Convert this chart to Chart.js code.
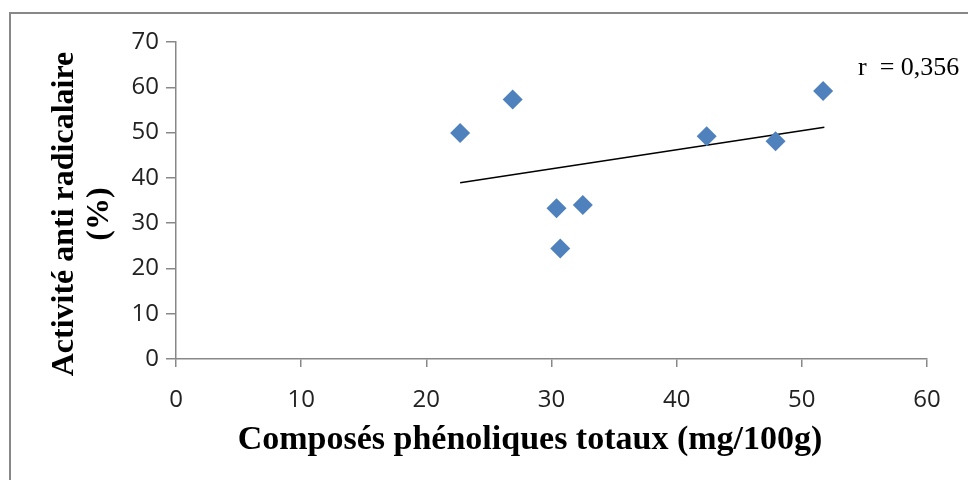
<!DOCTYPE html>
<html>
<head>
<meta charset="utf-8">
<script src="https://cdn.jsdelivr.net/npm/chart.js@4/dist/chart.umd.min.js"></script>
<style>
  html, body { margin: 0; padding: 0; background: #fff; }
  #wrap { position: relative; width: 968px; height: 480px; }
  #frame { position: absolute; left: 9px; top: 12px; width: 959px; height: 468px;
           border-left: 2px solid #888; border-top: 2px solid #888; box-sizing: border-box; }
  canvas { position: absolute; left: 0; top: 0; }
</style>
</head>
<body>
<div id="wrap">
  <div id="frame"></div>
  <canvas id="myChart" width="968" height="480"></canvas>
</div>
<script>
// values
var phenols = [22.7, 26.9, 30.4, 30.7, 32.5, 42.4, 47.9, 51.7];
var activity = [49.9, 57.3, 33.3, 24.4, 34.0, 49.2, 48.1, 59.2];
var trendX = [22.7, 51.8];
var trendY = [38.9, 51.2];
var xTicks = [0, 10, 20, 30, 40, 50, 60];
var yTicks = [0, 10, 20, 30, 40, 50, 60, 70];
var xTitle = 'Composés phénoliques totaux (mg/100g)';
var yTitle = ['Activité anti radicalaire', '(%)'];
var rLabel = 'r  = 0,356';

document.addEventListener('DOMContentLoaded', function() {
    var ctx = document.getElementById('myChart').getContext('2d');

    var points = phenols.map(function(x, i) { return { x: x, y: activity[i] }; });
    var trend = trendX.map(function(x, i) { return { x: x, y: trendY[i] }; });

    // axis titles and r value drawn as text
    var textPlugin = {
        id: 'texts',
        afterDraw: function(chart) {
            var c = chart.ctx;
            c.save();
            c.fillStyle = '#000';
            c.font = 'bold 34px "Liberation Serif"';
            c.textAlign = 'center';
            c.textBaseline = 'alphabetic';
            c.fillText(xTitle, 530, 449);

            c.translate(0, 214);
            c.rotate(-Math.PI / 2);
            c.font = 'bold 32px "Liberation Serif"';
            c.fillText(yTitle[0], 0, 73);
            c.fillText(yTitle[1], 0, 108);
            c.restore();

            c.save();
            c.font = '26px "Liberation Serif"';
            c.fillStyle = '#000';
            c.textAlign = 'left';
            c.fillText(rLabel, 858, 75);
            c.restore();
        }
    };

    new Chart(ctx, {
        type: 'scatter',
        data: {
            datasets: [{
                data: points,
                pointStyle: 'rectRot',
                pointRadius: 10,
                pointBackgroundColor: '#4F81BD',
                pointBorderColor: '#4F81BD',
                pointBorderWidth: 0
            }, {
                data: trend,
                showLine: true,
                borderColor: '#000',
                borderWidth: 1.5,
                pointRadius: 0
            }]
        },
        options: {
            responsive: false,
            animation: false,
            layout: { padding: { left: 0, top: 42, right: 41, bottom: 0 } },
            plugins: { legend: { display: false }, tooltip: { enabled: false } },
            scales: {
                x: {
                    min: 0, max: 60,
                    afterBuildTicks: function(s) { s.ticks = xTicks.map(function(v) { return { value: v }; }); },
                    afterFit: function(s) { s.height = 121; },
                    grid: { drawOnChartArea: false, drawTicks: true, tickLength: 8, color: '#888', lineWidth: 1.5 },
                    border: { color: '#888', width: 1.5 },
                    ticks: { color: '#222', font: { family: '"Open Sans"', size: 24 }, padding: 19, maxRotation: 0 }
                },
                y: {
                    min: 0, max: 70,
                    afterBuildTicks: function(s) { s.ticks = yTicks.map(function(v) { return { value: v }; }); },
                    afterFit: function(s) { s.width = 176; },
                    grid: { drawOnChartArea: false, drawTicks: true, tickLength: 10, color: '#888', lineWidth: 1.5 },
                    border: { color: '#888', width: 1.5 },
                    ticks: { color: '#222', font: { family: '"Open Sans"', size: 24 }, padding: 7 }
                }
            }
        },
        plugins: [textPlugin]
    });
});
</script>
</body>
</html>
